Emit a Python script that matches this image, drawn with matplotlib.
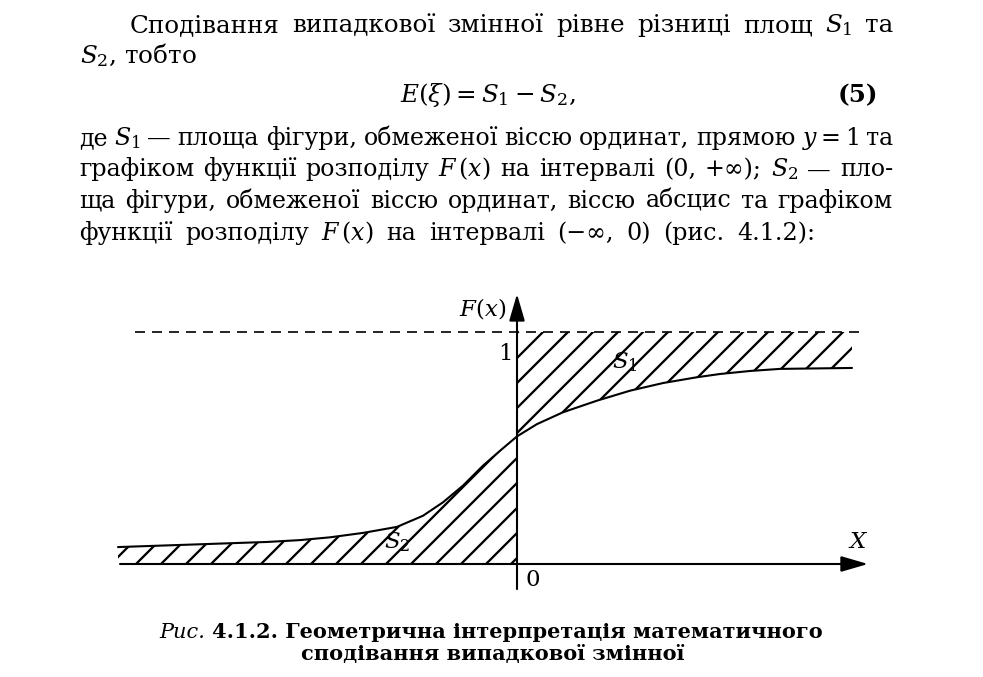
import numpy as np
import matplotlib.pyplot as plt

plt.rcParams['font.family'] = ['DejaVu Serif']
plt.rcParams['mathtext.fontset'] = 'dejavuserif'
plt.rcParams['hatch.linewidth'] = 1.1

W, H, DPI = 984, 678, 150

# графік функції розподілу F(x)
curve_x = [-3.99, -3.17, -2.50, -2.17, -1.87, -1.54, -1.20, -0.94, -0.74, -0.54,
           -0.34, -0.17, 0.00, 0.20, 0.46, 0.80, 1.13, 1.46, 1.80, 2.03,
           2.33, 2.63, 3.35]
curve_y = [0.073, 0.085, 0.095, 0.103, 0.115, 0.134, 0.160, 0.208, 0.266, 0.338,
           0.424, 0.488, 0.550, 0.603, 0.654, 0.704, 0.747, 0.780, 0.805, 0.819,
           0.832, 0.841, 0.845]
upper_level = 1.0
dashed_x = [-3.82, 3.43]
x_axis_range = [-3.97, 3.51]
y_axis_range = [-0.108, 1.164]

# текст сторінки
line_1 = 'Сподівання випадкової змінної рівне різниці площ $S_1$ та'
line_2 = '$S_2$, тобто'
formula = r'$E(\xi) = S_1 - S_2$,'
formula_no = '(5)'
para = [
    'де $S_1$ — площа фігури, обмеженої віссю ординат, прямою $y=1$ та',
    'графіком функції розподілу $F\\,(x)$ на інтервалі (0, +∞); $S_2$ — пло-',
    'ща фігури, обмеженої віссю ординат, віссю абсцис та графіком',
]
para_last = 'функції розподілу $F\\,(x)$ на інтервалі (−∞, 0) (рис. 4.1.2):'
caption_1 = '4.1.2. Геометрична інтерпретація математичного'
caption_2 = 'сподівання випадкової змінної'

fig = plt.figure(figsize=(W / DPI, H / DPI), dpi=DPI)
renderer = fig.canvas.get_renderer()


def fx(px):
    return px / W


def fy(py):
    return 1 - py / H


def justify(text, x0, x1, base, size):
    # рівняння рядка по ширині: слова розставляються з однаковими проміжками
    words = text.split(' ')
    ts = [fig.text(0, fy(base), w, fontsize=size, ha='left', va='baseline') for w in words]
    widths = [t.get_window_extent(renderer).width for t in ts]
    gap = (x1 - x0 - sum(widths)) / (len(ts) - 1)
    x = x0
    for t, w in zip(ts, widths):
        t.set_x(fx(x))
        x += w + gap


fs = 11.8
ps = 11.4
justify(line_1, 130, 893, 32, fs)
fig.text(fx(80), fy(63), line_2, fontsize=fs, va='baseline')
fig.text(fx(400), fy(102), formula, fontsize=fs, va='baseline')
fig.text(fx(878), fy(102), formula_no, fontsize=fs, fontweight='bold', ha='right', va='baseline')
for i, s in enumerate(para):
    justify(s, 79, 893, 145 + i * 31.5, ps)
justify(para_last, 79, 815, 240, ps)

# підпис рисунка
cs = 10
t1 = fig.text(0, fy(638), 'Рис.', fontsize=cs, style='italic', va='baseline')
t2 = fig.text(0, fy(638), caption_1, fontsize=cs, fontweight='bold', va='baseline')
w1 = t1.get_window_extent(renderer).width
w2 = t2.get_window_extent(renderer).width
x0 = 491 - (w1 + 6 + w2) / 2
t1.set_x(fx(x0))
t2.set_x(fx(x0 + w1 + 6))
fig.text(fx(493), fy(660), caption_2, fontsize=cs, fontweight='bold', ha='center', va='baseline')

# рисунок
ax = fig.add_axes([fx(100), fy(600), 780 / W, 315 / H])
ax.set_xlim(-4.17, 3.63)
ax.set_ylim((565 - 600) / 232, (565 - 285) / 232)
ax.axis('off')

cx = np.array(curve_x)
cy = np.array(curve_y)
left = cx <= 0
right = cx >= 0
ax.fill_between(cx[right], cy[right], upper_level, facecolor='none',
                edgecolor='k', hatch='//', linewidth=0)
ax.fill_between(cx[left], 0, cy[left], facecolor='none',
                edgecolor='k', hatch='//', linewidth=0)
ax.plot(cx, cy, color='k', lw=1.0, solid_capstyle='round', solid_joinstyle='round')
ax.plot(dashed_x, [upper_level, upper_level], color='k', lw=0.8,
        linestyle=(0, (6, 4.2)))

arrow = dict(arrowstyle='-|>,head_length=0.55,head_width=0.16', color='k',
             lw=1.0, mutation_scale=20, shrinkA=0, shrinkB=0)
ax.annotate('', xy=(x_axis_range[1], 0), xytext=(x_axis_range[0], 0), arrowprops=arrow)
ax.annotate('', xy=(0, y_axis_range[1]), xytext=(0, y_axis_range[0]), arrowprops=arrow)

ax.text(-0.34, 1.105, '$F(x)$', fontsize=11, ha='center', va='center')
ax.text(-0.12, 0.91, '1', fontsize=11, ha='center', va='center')
ax.text(0.16, -0.065, '0', fontsize=11, ha='center', va='center')
ax.text(3.41, 0.10, '$X$', fontsize=11, ha='center', va='center')
ax.text(1.08, 0.875, '$S_1$', fontsize=11, ha='center', va='center')
ax.text(-1.20, 0.10, '$S_2$', fontsize=11, ha='center', va='center')

fig.savefig('out.png', dpi=DPI, facecolor='white')
